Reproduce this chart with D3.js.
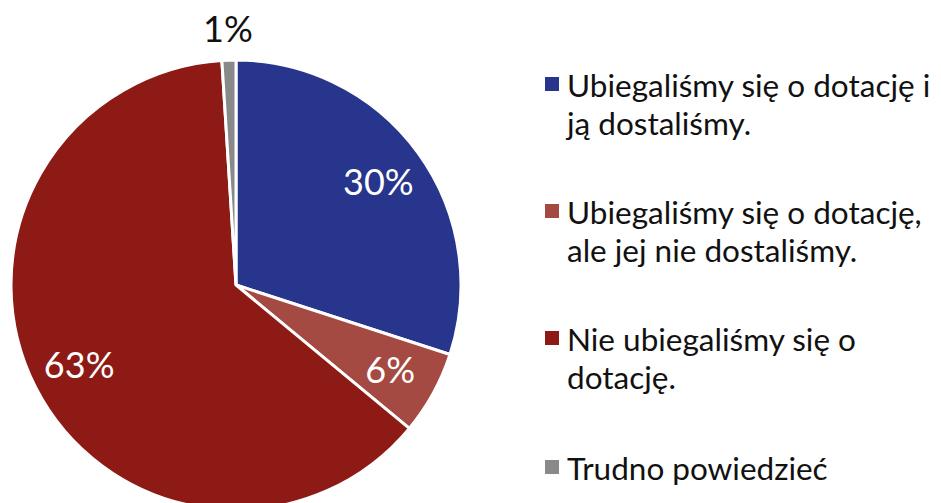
<!DOCTYPE html>
<html lang="pl">
<head>
    <meta charset="UTF-8">
    <title>Dotacje</title>
    <style>
        body { margin: 0; background: #fff; }
        svg { display: block; font-family: Lato, sans-serif; }
        .slice { stroke: #fff; stroke-width: 3px; }
    </style>
</head>
<body>

<svg width="941" height="503"></svg>

<script src="https://cdn.jsdelivr.net/npm/d3@7"></script>

<script>
    var labels = [
        ["Ubiegaliśmy się o dotację i", "ją dostaliśmy."],
        ["Ubiegaliśmy się o dotację,", "ale jej nie dostaliśmy."],
        ["Nie ubiegaliśmy się o", "dotację."],
        ["Trudno powiedzieć"]
    ];
    var values = [30, 6, 63, 1];
    var colors = ["#27358c", "#a54a42", "#8e1a16", "#898989"];

    var svg = d3.select("svg");
    var cx = 236, cy = 285, radius = 225;

    var pie = d3.pie().sort(null).value(d => d);
    var arcs = pie(values);

    var arc = d3.arc().innerRadius(0).outerRadius(radius);
    var labelArc = d3.arc().innerRadius(176).outerRadius(176);
    var outerArc = d3.arc().innerRadius(256).outerRadius(256);

    var g = svg.append("g").attr("transform", `translate(${cx}, ${cy})`);

    g.selectAll("path")
        .data(arcs)
        .join("path")
        .attr("class", "slice")
        .attr("fill", (d, i) => colors[i])
        .attr("d", arc);

    // small slices get their label outside, in black
    g.selectAll("text")
        .data(arcs)
        .join("text")
        .attr("transform", d => {
            var p = d.data < 3 ? outerArc.centroid(d) : labelArc.centroid(d);
            return `translate(${p[0]}, ${p[1]})`;
        })
        .attr("text-anchor", "middle")
        .attr("dy", "0.36em")
        .style("font-size", "36px")
        .attr("fill", d => d.data < 3 ? "#111" : "#fff")
        .text(d => d.data + "%");

    // legend
    var legendX = 545, legendTop = 97, itemGap = 127, lineH = 38;
    var legend = svg.append("g");
    var item = legend.selectAll("g")
        .data(labels)
        .join("g")
        .attr("transform", (d, i) => `translate(${legendX}, ${legendTop + i * itemGap + (i === 3 ? 2 : 0)})`);

    item.append("rect")
        .attr("x", 0)
        .attr("y", -20)
        .attr("width", 14)
        .attr("height", 14)
        .attr("fill", (d, i) => colors[i]);

    item.append("text")
        .attr("x", 22)
        .style("font-size", "31.5px")
        .attr("fill", "#111")
        .selectAll("tspan")
        .data(d => d)
        .join("tspan")
        .attr("x", 22)
        .attr("y", (d, i) => i * lineH)
        .text(d => d);
</script>

</body>
</html>
